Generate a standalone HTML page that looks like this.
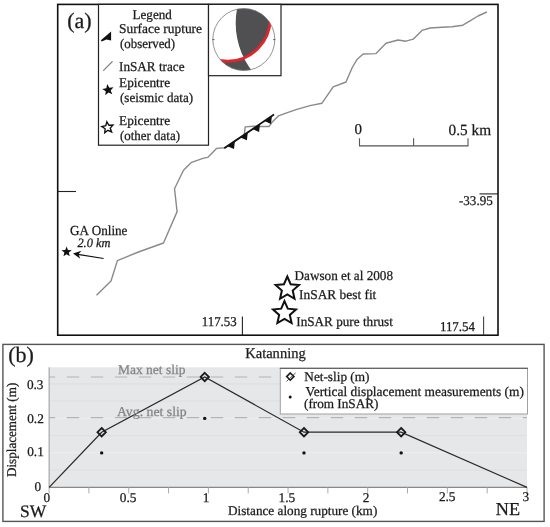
<!DOCTYPE html>
<html><head><meta charset="utf-8"><style>
html,body{margin:0;padding:0;background:#fff;}
svg{display:block;filter:blur(0.3px);}
.t{text-rendering:geometricPrecision;font-family:"Liberation Serif",serif;fill:#1a1a1a;stroke:#1a1a1a;stroke-width:0.25px;}
</style></head><body>
<svg width="550" height="527" viewBox="0 0 550 527">
<defs>
<clipPath id="fmclip"><circle cx="243.8" cy="39.5" r="31"/></clipPath>
</defs>
<rect x="0" y="0" width="550" height="527" fill="#fff"/>
<g id="gfx">
<!-- Panel a -->
<rect x="57.7" y="4.4" width="440.3" height="330.8" fill="none" stroke="#111" stroke-width="1.6"/>
<!-- legend box -->
<rect x="98.5" y="4.4" width="110" height="140.8" fill="#fff" stroke="#222" stroke-width="1.2"/>
<polygon points="100.9,40.3 111.1,31.6 111.1,40.5 106.4,39.6 101.7,41.4" fill="#111"/>
<line x1="103.3" y1="70.6" x2="112.5" y2="61.4" stroke="#777" stroke-width="1.2"/>
<polygon points="107.26,84.06 109.32,87.70 113.49,87.37 110.66,90.45 112.27,94.32 108.46,92.57 105.28,95.30 105.76,91.14 102.19,88.96 106.29,88.13" fill="#111"/>
<polygon points="106.88,121.74 108.91,125.24 112.95,125.11 110.25,128.12 111.62,131.91 107.93,130.28 104.74,132.76 105.15,128.74 101.81,126.47 105.76,125.63" fill="none" stroke="#111" stroke-width="1.4"/>
<!-- focal mech box -->
<rect x="208.5" y="4.4" width="72.5" height="71.3" fill="#fff" stroke="#222" stroke-width="1.2"/>
<g clip-path="url(#fmclip)">
  <path fill-rule="evenodd" fill="#505053" d="M200,0 H290 V80 H200 Z M270.2,18.76 A42.5,42.5 0 1,0 185.2,18.76 A42.5,42.5 0 1,0 270.2,18.76 Z M391.31,23.15 A77.81,77.81 0 1,0 235.69,23.15 A77.81,77.81 0 1,0 391.31,23.15 Z"/>
  <circle cx="227.7" cy="18.76" r="42.5" fill="none" stroke="#e0262c" stroke-width="2.8"/>
</g>
<circle cx="243.8" cy="39.5" r="31" fill="none" stroke="#777" stroke-width="0.8"/>
<line x1="212.3" y1="39.6" x2="214.5" y2="39.6" stroke="#444" stroke-width="0.8"/>
<line x1="273" y1="39.6" x2="275.3" y2="39.6" stroke="#444" stroke-width="0.8"/>
<!-- map -->
<polyline points="96.5,295.2 111,281 117.4,260.6 138.4,252 163.5,243 177.1,211.6 174.5,188.7 183.5,170.3 191.6,162.3 202.9,158.4 207.7,157.4 216.5,148.4 224.8,147.7 233,142.2 244.2,134.8 245.2,126.9 253.6,126.2 260.2,126.5 268.9,126.5 271,123.9 272.5,121.7 278.4,115.9 286,113.2 296,109.6 310,105.6 322,103.2 333.2,86.8 346,82 352,68 357.2,59.2 363.2,54 376,53.6 386,43.2 398,40 406,41.2 413.2,39.2 422,30.4 430,28 442,27.2 452,26.8 462.8,25.2 470,20.8 478,16 486.8,12" fill="none" stroke="#8a8a8a" stroke-width="1.4" stroke-linejoin="round"/>
<line x1="224.3" y1="148.3" x2="274" y2="114.5" stroke="#111" stroke-width="1.8"/>
<polygon points="227.46,146.15 234.90,141.09 234.00,149.09" fill="#111"/><polygon points="240.36,137.38 247.80,132.32 246.90,140.32" fill="#111"/><polygon points="252.56,129.08 260.00,124.02 259.10,132.02" fill="#111"/><polygon points="264.46,120.99 271.90,115.93 271.00,123.93" fill="#111"/>
<!-- scale bar -->
<polyline points="359.5,138.3 359.5,145.9 468,145.9 468,138.3" fill="none" stroke="#555" stroke-width="1.1"/>
<line x1="413.6" y1="138.3" x2="413.6" y2="145.9" stroke="#555" stroke-width="1.1"/>
<!-- coordinate ticks -->
<line x1="57.7" y1="191.5" x2="76" y2="191.5" stroke="#222" stroke-width="1.1"/>
<line x1="479.5" y1="193.9" x2="498" y2="193.9" stroke="#222" stroke-width="1.1"/>
<line x1="242.4" y1="316.5" x2="242.4" y2="335" stroke="#222" stroke-width="1.1"/>
<line x1="483.6" y1="316.5" x2="483.6" y2="335" stroke="#444" stroke-width="1.1"/>
<!-- GA online -->
<polygon points="66.60,246.50 67.95,250.04 71.74,250.23 68.79,252.61 69.77,256.27 66.60,254.20 63.43,256.27 64.41,252.61 61.46,250.23 65.25,250.04" fill="#111"/>
<line x1="77.8" y1="254.3" x2="103.6" y2="258.5" stroke="#111" stroke-width="1.2"/>
<polygon points="73,253.4 81.5,250.75 78.4,254.3 80.3,258.65" fill="#111"/>
<!-- stars -->
<polygon points="287.30,276.50 290.65,284.19 299.00,285.00 292.72,290.56 294.53,298.75 287.30,294.50 280.07,298.75 281.88,290.56 275.60,285.00 283.95,284.19" fill="none" stroke="#111" stroke-width="2" stroke-linejoin="miter"/>
<polygon points="284.50,301.10 287.79,308.67 296.01,309.46 289.83,314.93 291.61,322.99 284.50,318.80 277.39,322.99 279.17,314.93 272.99,309.46 281.21,308.67" fill="none" stroke="#111" stroke-width="2" stroke-linejoin="miter"/>

<!-- Panel b -->
<rect x="2.9" y="344.4" width="541.2" height="177.0" fill="none" stroke="#555" stroke-width="1.4"/>
<rect x="49.1" y="367.3" width="477.90" height="120.10" fill="#e6e7e9"/>
<line x1="49.1" y1="470.15" x2="527.0" y2="470.15" stroke="#dddee0" stroke-width="1"/><line x1="49.1" y1="452.90" x2="527.0" y2="452.90" stroke="#eeeef0" stroke-width="1"/><line x1="49.1" y1="435.65" x2="527.0" y2="435.65" stroke="#dddee0" stroke-width="1"/><line x1="49.1" y1="418.40" x2="527.0" y2="418.40" stroke="#eeeef0" stroke-width="1"/><line x1="49.1" y1="401.15" x2="527.0" y2="401.15" stroke="#dddee0" stroke-width="1"/><line x1="49.1" y1="383.90" x2="527.0" y2="383.90" stroke="#dcdcde" stroke-width="1"/>
<line x1="49.1" y1="376.9" x2="527.0" y2="376.9" stroke="#b4b4b4" stroke-width="1.05" stroke-dasharray="12.4 11.6" stroke-dashoffset="6.3"/>
<line x1="49.1" y1="417.6" x2="527.0" y2="417.6" stroke="#b4b4b4" stroke-width="1.05" stroke-dasharray="12.4 11.6" stroke-dashoffset="6.3"/>
<line x1="49.1" y1="367.3" x2="49.1" y2="487.4" stroke="#999" stroke-width="1"/>
<line x1="49.1" y1="487.4" x2="527.0" y2="487.4" stroke="#888" stroke-width="1.2"/>
<line x1="49.10" y1="487.4" x2="49.10" y2="493.4" stroke="#aaa" stroke-width="1"/><line x1="88.92" y1="487.4" x2="88.92" y2="493.4" stroke="#aaa" stroke-width="1"/><line x1="128.75" y1="487.4" x2="128.75" y2="493.4" stroke="#aaa" stroke-width="1"/><line x1="168.57" y1="487.4" x2="168.57" y2="493.4" stroke="#aaa" stroke-width="1"/><line x1="208.40" y1="487.4" x2="208.40" y2="493.4" stroke="#aaa" stroke-width="1"/><line x1="248.22" y1="487.4" x2="248.22" y2="493.4" stroke="#aaa" stroke-width="1"/><line x1="288.05" y1="487.4" x2="288.05" y2="493.4" stroke="#aaa" stroke-width="1"/><line x1="327.88" y1="487.4" x2="327.88" y2="493.4" stroke="#aaa" stroke-width="1"/><line x1="367.70" y1="487.4" x2="367.70" y2="493.4" stroke="#aaa" stroke-width="1"/><line x1="407.52" y1="487.4" x2="407.52" y2="493.4" stroke="#aaa" stroke-width="1"/><line x1="447.35" y1="487.4" x2="447.35" y2="493.4" stroke="#aaa" stroke-width="1"/><line x1="487.18" y1="487.4" x2="487.18" y2="493.4" stroke="#aaa" stroke-width="1"/><line x1="527.00" y1="487.4" x2="527.00" y2="493.4" stroke="#aaa" stroke-width="1"/>
<polyline points="49.10,487.40 101.67,432.20 204.74,377.00 303.98,432.20 401.15,432.20 527.00,487.40" fill="none" stroke="#2a2a2a" stroke-width="1.25"/>
<polygon points="101.67,428.00 105.87,432.20 101.67,436.40 97.47,432.20" fill="none" stroke="#1a1a1a" stroke-width="1.8"/><polygon points="204.74,372.80 208.94,377.00 204.74,381.20 200.54,377.00" fill="none" stroke="#1a1a1a" stroke-width="1.8"/><polygon points="303.98,428.00 308.18,432.20 303.98,436.40 299.78,432.20" fill="none" stroke="#1a1a1a" stroke-width="1.8"/><polygon points="401.15,428.00 405.35,432.20 401.15,436.40 396.95,432.20" fill="none" stroke="#1a1a1a" stroke-width="1.8"/>
<circle cx="101.67" cy="452.90" r="1.7" fill="#111"/><circle cx="204.74" cy="418.40" r="1.7" fill="#111"/><circle cx="303.98" cy="452.90" r="1.7" fill="#111"/><circle cx="401.15" cy="452.90" r="1.7" fill="#111"/>
<!-- chart legend -->
<rect x="280.3" y="368.4" width="247.2" height="45.6" fill="#fff" stroke="#a0a0a0" stroke-width="1"/>
<line x1="279.8" y1="368.4" x2="528" y2="368.4" stroke="#666" stroke-width="1.3"/>
<polygon points="290.3,373.0 293.9,376.6 290.3,380.2 286.7,376.6" fill="none" stroke="#1a1a1a" stroke-width="1.6"/>
<line x1="286.5" y1="381.4" x2="295.7" y2="372.8" stroke="#444" stroke-width="0.9"/>
<circle cx="290.2" cy="397.1" r="1.5" fill="#111"/>
</g>
<text id="a" class="t" x="67.20" y="27.60" font-size="22">(a)</text>
<text id="leg" class="t" x="132.60" y="19.00" font-size="13.5" textLength="39.13" lengthAdjust="spacingAndGlyphs">Legend</text>
<text id="sr" class="t" x="119.00" y="32.60" font-size="13.5" textLength="83.00" lengthAdjust="spacingAndGlyphs">Surface rupture</text>
<text id="obs" class="t" x="120.00" y="48.25" font-size="13.5" textLength="55.11" lengthAdjust="spacingAndGlyphs">(observed)</text>
<text id="ins" class="t" x="119.00" y="70.90" font-size="13.5" textLength="65.54" lengthAdjust="spacingAndGlyphs">InSAR trace</text>
<text id="ep1" class="t" x="119.00" y="87.35" font-size="13.5" textLength="51.17" lengthAdjust="spacingAndGlyphs">Epicentre</text>
<text id="sd" class="t" x="120.00" y="102.35" font-size="13.5" textLength="73.15" lengthAdjust="spacingAndGlyphs">(seismic data)</text>
<text id="ep2" class="t" x="119.00" y="125.25" font-size="13.5" textLength="51.17" lengthAdjust="spacingAndGlyphs">Epicentre</text>
<text id="od" class="t" x="120.00" y="139.75" font-size="13.5" textLength="59.98" lengthAdjust="spacingAndGlyphs">(other data)</text>
<text id="s0" class="t" x="354.60" y="134.15" font-size="15">0</text>
<text id="s05" class="t" x="448.60" y="135.40" font-size="15.5" textLength="42.49" lengthAdjust="spacingAndGlyphs">0.5 km</text>
<text id="lat" class="t" x="459.00" y="205.00" font-size="13.3" textLength="33.73" lengthAdjust="spacingAndGlyphs">-33.95</text>
<text id="ga" class="t" x="70.10" y="234.70" font-size="13.8" textLength="57.36" lengthAdjust="spacingAndGlyphs">GA Online</text>
<text id="ga2" class="t" x="77.40" y="246.65" font-size="12.8" textLength="33.08" lengthAdjust="spacingAndGlyphs" font-style="italic">2.0 km</text>
<text id="daw" class="t" x="294.60" y="279.95" font-size="13.5" textLength="98.38" lengthAdjust="spacingAndGlyphs">Dawson et al 2008</text>
<text id="ibf" class="t" x="299.10" y="298.80" font-size="13.5" textLength="77.24" lengthAdjust="spacingAndGlyphs">InSAR best fit</text>
<text id="ipt" class="t" x="296.30" y="325.70" font-size="13.5" textLength="96.61" lengthAdjust="spacingAndGlyphs">InSAR pure thrust</text>
<text id="l53" class="t" x="201.80" y="325.55" font-size="13.5" textLength="34.90" lengthAdjust="spacingAndGlyphs">117.53</text>
<text id="l54" class="t" x="439.90" y="331.40" font-size="13.5" textLength="35.09" lengthAdjust="spacingAndGlyphs">117.54</text>
<text id="b" class="t" x="8.20" y="362.40" font-size="22">(b)</text>
<text id="kat" class="t" x="245.20" y="358.20" font-size="14.8" textLength="60.52" lengthAdjust="spacingAndGlyphs">Katanning</text>
<text id="max" class="t" x="117.90" y="374.10" font-size="13.5" textLength="67.57" lengthAdjust="spacingAndGlyphs" style="fill:#858585;stroke:#858585">Max net slip</text>
<text id="avg" class="t" x="116.90" y="415.55" font-size="13.5" textLength="69.88" lengthAdjust="spacingAndGlyphs" style="fill:#858585;stroke:#858585">Avg. net slip</text>
<text id="ns" class="t" x="304.30" y="380.70" font-size="13.3" textLength="65.21" lengthAdjust="spacingAndGlyphs">Net-slip (m)</text>
<text id="vd" class="t" x="305.50" y="396.05" font-size="13.6" textLength="218.43" lengthAdjust="spacingAndGlyphs">Vertical displacement measurements (m)</text>
<text id="fi" class="t" x="304.00" y="407.85" font-size="13.3" textLength="74.40" lengthAdjust="spacingAndGlyphs">(from InSAR)</text>
<text id="y3" class="t" x="26.90" y="388.55" font-size="13.3">0.3</text>
<text id="y2" class="t" x="27.20" y="422.95" font-size="13.3">0.2</text>
<text id="y1" class="t" x="27.20" y="456.00" font-size="13.3">0.1</text>
<text id="y0" class="t" x="34.60" y="490.70" font-size="13.3">0</text>
<text id="x0" class="t" x="43.50" y="502.00" font-size="13.3">0</text>
<text id="x05" class="t" x="119.80" y="502.10" font-size="13.3">0.5</text>
<text id="x1" class="t" x="202.80" y="502.10" font-size="13.3">1</text>
<text id="x15" class="t" x="278.50" y="502.10" font-size="13.3">1.5</text>
<text id="x2" class="t" x="362.80" y="502.10" font-size="13.3">2</text>
<text id="x25" class="t" x="438.90" y="501.40" font-size="13.3">2.5</text>
<text id="x3" class="t" x="522.40" y="501.20" font-size="13.3">3</text>
<text id="sw" class="t" x="20.00" y="516.60" font-size="17.5">SW</text>
<text id="ne" class="t" x="495.80" y="514.90" font-size="18.2">NE</text>
<text id="dist" class="t" x="228.00" y="515.25" font-size="13.3" textLength="149.29" lengthAdjust="spacingAndGlyphs">Distance along rupture (km)</text>
<text id="disp" class="t" transform="matrix(1.0,0,0,1,0.000,0) rotate(-90 16.40 477.00)" x="16.40" y="477.00" font-size="13.5" textLength="94.32" lengthAdjust="spacingAndGlyphs">Displacement (m)</text>
</svg>
</body></html>
